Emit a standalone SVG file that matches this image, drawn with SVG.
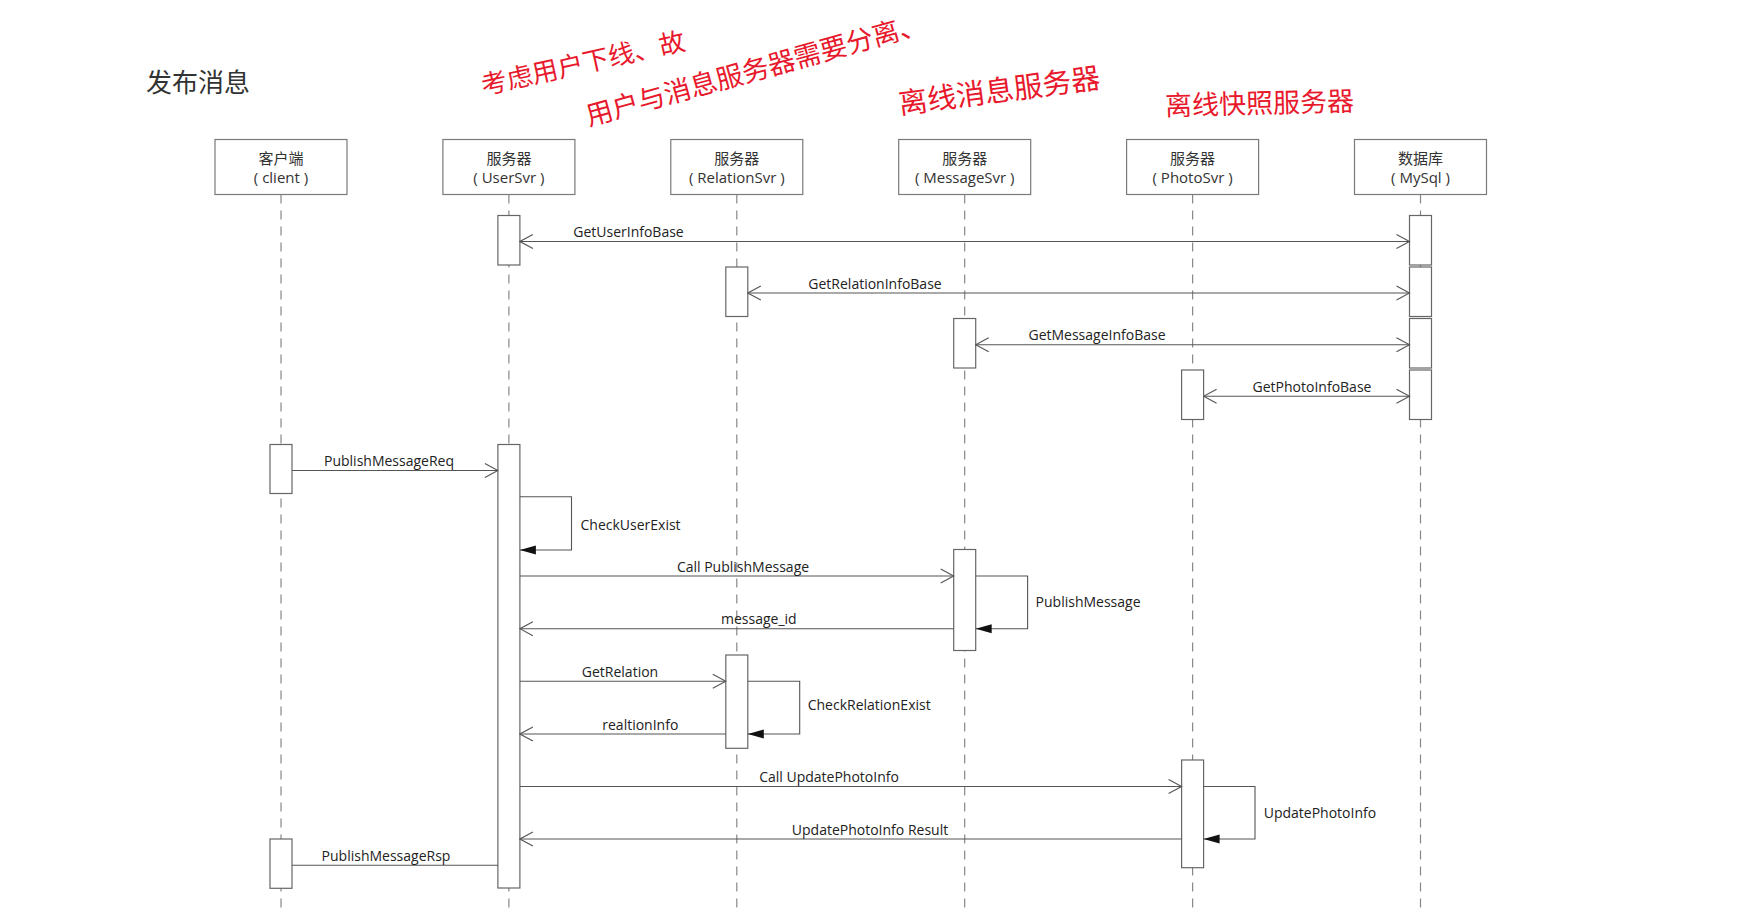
<svg xmlns="http://www.w3.org/2000/svg" width="1760" height="915" viewBox="0 0 1760 915">
<style>
text{font-family:"Open Sans","Noto Sans CJK SC",sans-serif;fill:#222;}
.title{font-size:26px;fill:#333;}
.hd{font-size:15px;text-anchor:middle;fill:#333;}
.box{fill:#fff;stroke:#7a7a7a;stroke-width:1.2;}
.life{stroke:#888;stroke-width:1.2;stroke-dasharray:9 7;fill:none;}
.act{fill:#fff;stroke:#666;stroke-width:1.2;}
.msg{stroke:#555;stroke-width:1.1;fill:none;}
.lbl{font-size:14px;text-anchor:middle;}
.lbs{font-size:14px;}
.hand{font-family:"Noto Sans CJK SC",sans-serif;fill:#e8192c;text-anchor:middle;dominant-baseline:central;}
</style>
<defs>
<marker id="open" viewBox="-14 -8 15 16" refX="0" refY="0" markerWidth="15" markerHeight="16" markerUnits="userSpaceOnUse" orient="auto-start-reverse">
<path d="M-13,-7 L0,0 L-13,7" fill="none" stroke="#555" stroke-width="1.1"/>
</marker>
<marker id="filled" viewBox="-17 -6 18 12" refX="0" refY="0" markerWidth="18" markerHeight="12" markerUnits="userSpaceOnUse" orient="auto">
<path d="M-16,-4.5 L0,0 L-16,4.5 Z" fill="#111"/>
</marker>
</defs>
<rect width="1760" height="915" fill="#fff"/>
<text class="title" x="146" y="92">发布消息</text>
<g id="notes">
<text class="hand" font-size="26" transform="translate(582.5,61) rotate(-12.6)">考虑用户下线、故</text>
<text class="hand" font-size="27" transform="translate(755,68) rotate(-15.5)">用户与消息服务器需要分离、</text>
<text class="hand" font-size="29" transform="translate(999,88) rotate(-7.5)">离线消息服务器</text>
<text class="hand" font-size="27" transform="translate(1259.5,101.5) rotate(-1.5)">离线快照服务器</text>
</g>
<g id="client">
<line class="life" x1="281" y1="194.5" x2="281" y2="913"/>
<rect class="box" x="215" y="139.5" width="132" height="55"/>
<text class="hd" x="281" y="163.5">客户端</text>
<text class="hd" x="281" y="183">( client )</text>
<rect class="act" x="270" y="444.5" width="22" height="49"/>
<rect class="act" x="270" y="839" width="22" height="49.3"/>
</g>
<g id="usersvr">
<line class="life" x1="508.9" y1="194.5" x2="508.9" y2="913"/>
<rect class="box" x="442.9" y="139.5" width="132" height="55"/>
<text class="hd" x="508.9" y="163.5">服务器</text>
<text class="hd" x="508.9" y="183">( UserSvr )</text>
<rect class="act" x="497.9" y="215.5" width="22" height="49.5"/>
<rect class="act" x="497.9" y="444.5" width="22" height="443.5"/>
</g>
<g id="relationsvr">
<line class="life" x1="736.8" y1="194.5" x2="736.8" y2="913"/>
<rect class="box" x="670.8" y="139.5" width="132" height="55"/>
<text class="hd" x="736.8" y="163.5">服务器</text>
<text class="hd" x="736.8" y="183">( RelationSvr )</text>
<rect class="act" x="725.8" y="267" width="22" height="49.5"/>
<rect class="act" x="725.8" y="655" width="22" height="93.3"/>
</g>
<g id="messagesvr">
<line class="life" x1="964.7" y1="194.5" x2="964.7" y2="913"/>
<rect class="box" x="898.7" y="139.5" width="132" height="55"/>
<text class="hd" x="964.7" y="163.5">服务器</text>
<text class="hd" x="964.7" y="183">( MessageSvr )</text>
<rect class="act" x="953.7" y="318.5" width="22" height="49.5"/>
<rect class="act" x="953.7" y="549.5" width="22" height="101"/>
</g>
<g id="photosvr">
<line class="life" x1="1192.6" y1="194.5" x2="1192.6" y2="913"/>
<rect class="box" x="1126.6" y="139.5" width="132" height="55"/>
<text class="hd" x="1192.6" y="163.5">服务器</text>
<text class="hd" x="1192.6" y="183">( PhotoSvr )</text>
<rect class="act" x="1181.6" y="370" width="22" height="49.5"/>
<rect class="act" x="1181.6" y="760" width="22" height="107.7"/>
</g>
<g id="mysql">
<line class="life" x1="1420.5" y1="194.5" x2="1420.5" y2="913"/>
<rect class="box" x="1354.5" y="139.5" width="132" height="55"/>
<text class="hd" x="1420.5" y="163.5">数据库</text>
<text class="hd" x="1420.5" y="183">( MySql )</text>
<rect class="act" x="1409.5" y="215.5" width="22" height="49.5"/>
<rect class="act" x="1409.5" y="267" width="22" height="49.5"/>
<rect class="act" x="1409.5" y="318.5" width="22" height="49.5"/>
<rect class="act" x="1409.5" y="370" width="22" height="49.5"/>
</g>
<g id="connectors">
<line class="msg" x1="519.9" y1="241.5" x2="1409.5" y2="241.5" marker-start="url(#open)" marker-end="url(#open)"/>
<text class="lbl" x="628.5" y="237">GetUserInfoBase</text>
<line class="msg" x1="747.8" y1="293" x2="1409.5" y2="293" marker-start="url(#open)" marker-end="url(#open)"/>
<text class="lbl" x="875" y="288.5">GetRelationInfoBase</text>
<line class="msg" x1="975.7" y1="344.7" x2="1409.5" y2="344.7" marker-start="url(#open)" marker-end="url(#open)"/>
<text class="lbl" x="1097" y="340.2">GetMessageInfoBase</text>
<line class="msg" x1="1203.6" y1="396.3" x2="1409.5" y2="396.3" marker-start="url(#open)" marker-end="url(#open)"/>
<text class="lbl" x="1312" y="391.8">GetPhotoInfoBase</text>
<line class="msg" x1="292" y1="470.5" x2="497.9" y2="470.5" marker-end="url(#open)"/>
<text class="lbl" x="389" y="466">PublishMessageReq</text>
<path class="msg" d="M519.9,496.7 H571.5 V550 H519.9" marker-end="url(#filled)"/>
<text class="lbs" x="580.5" y="530">CheckUserExist</text>
<line class="msg" x1="519.9" y1="576" x2="953.7" y2="576" marker-end="url(#open)"/>
<text class="lbl" x="743" y="571.5">Call PublishMessage</text>
<path class="msg" d="M975.7,576 H1027.6 V628.7 H975.7" marker-end="url(#filled)"/>
<text class="lbs" x="1035.6" y="607.3">PublishMessage</text>
<line class="msg" x1="953.7" y1="628.7" x2="519.9" y2="628.7" marker-end="url(#open)"/>
<text class="lbl" x="758.8" y="624">message_id</text>
<line class="msg" x1="519.9" y1="681.3" x2="725.8" y2="681.3" marker-end="url(#open)"/>
<text class="lbl" x="620" y="676.8">GetRelation</text>
<path class="msg" d="M747.8,681.3 H799.7 V734 H747.8" marker-end="url(#filled)"/>
<text class="lbs" x="807.7" y="710">CheckRelationExist</text>
<line class="msg" x1="725.8" y1="734" x2="519.9" y2="734" marker-end="url(#open)"/>
<text class="lbl" x="640.3" y="729.5">realtionInfo</text>
<line class="msg" x1="519.9" y1="786.5" x2="1181.6" y2="786.5" marker-end="url(#open)"/>
<text class="lbl" x="829" y="782">Call UpdatePhotoInfo</text>
<path class="msg" d="M1203.6,786.5 H1255 V839 H1203.6" marker-end="url(#filled)"/>
<text class="lbs" x="1263.7" y="818">UpdatePhotoInfo</text>
<line class="msg" x1="1181.6" y1="839" x2="519.9" y2="839" marker-end="url(#open)"/>
<text class="lbl" x="870" y="834.5">UpdatePhotoInfo Result</text>
<line class="msg" x1="497.9" y1="865.3" x2="292" y2="865.3"/>
<text class="lbl" x="386" y="860.8">PublishMessageRsp</text>
</g>
</svg>
